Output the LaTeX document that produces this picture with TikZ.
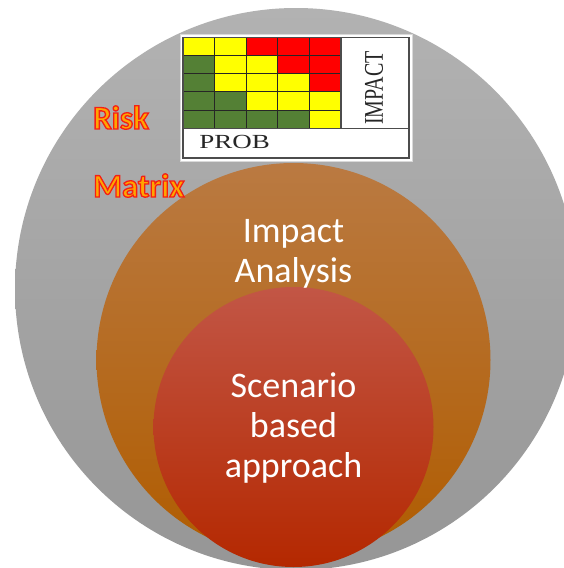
\documentclass[tikz,border=0pt]{standalone}
\usepackage{fontspec}
\setmainfont{Carlito}
\newfontfamily\gridfont{Liberation Serif}

\definecolor{outertop}{RGB}{178,178,178}
\definecolor{outerbot}{RGB}{150,150,150}
\definecolor{impacttop}{RGB}{186,122,66}
\definecolor{impactbot}{RGB}{176,92,0}
\definecolor{scentop}{RGB}{194,86,70}
\definecolor{scenbot}{RGB}{180,40,0}
\definecolor{cellY}{RGB}{255,255,0}
\definecolor{cellR}{RGB}{255,0,0}
\definecolor{cellG}{RGB}{84,128,53}
\definecolor{wordfill}{RGB}{255,165,0}

% orange letters stroked in red
\newcommand{\glowword}[1]{{\color{wordfill}%
	\special{pdf:literal direct 2 Tr 1.3 w 0.96 0.12 0.08 RG}#1%
	\special{pdf:literal direct 0 Tr}}}

\tikzset{
	every node/.style = {inner sep=0pt},
	circletext/.style = {text=white, font=\fontsize{36}{40}\selectfont, anchor=base},
	riskword/.style = {font=\bfseries\fontsize{33}{40}\selectfont, anchor=base west},
	gridtext/.style = {text=black!85, font=\gridfont\fontsize{20}{24}\selectfont, xscale=1.35},
	cell/.style = {draw=black!85, line width=1.1pt},
	frame/.style = {draw=black!70, line width=1.2pt}
}

\begin{document}
\begin{tikzpicture}[x=1pt,y=-1pt]
	\useasboundingbox (0,0) rectangle (564,568);
	\fill[white] (0,0) rectangle (564,568);
	\clip (0,0) rectangle (564,568);
	% the three discs
	\shade[top color=outertop, bottom color=outerbot] (296,289) circle (281);
	\shade[top color=impacttop, bottom color=impactbot] (293.5,360) circle (197);
	\shade[top color=scentop, bottom color=scenbot] (293.5,427) circle (140);
	% risk matrix
	\fill[white, draw=black!15] (180,34) rectangle (412,161);
	\foreach \row [count=\j from 0] in {{Y,Y,R,R,R},{G,Y,Y,R,R},{G,Y,Y,Y,R},{G,G,Y,Y,Y},{G,G,G,G,Y}}
		\foreach \c [count=\i from 0] in \row
			\filldraw[cell, fill=cell\c] (183+31.6*\i, 37.3+18.2*\j) rectangle ++(31.6,18.2);
	\draw[frame] (183,37.3) rectangle (409,158);
	\draw[frame] (183,128.3) -- (409,128.3);
	\draw[frame] (341,37.3) -- (341,128.3);
	\node[gridtext, anchor=base west] (prob) at (199,148) {PROB};
	\node[gridtext, rotate=90] (impactaxis) at (374,88) {IMPACT};
	% labels
	\node[riskword] (risk) at (93,129) {\glowword{Risk}};
	\node[riskword] (matrix) at (93,197) {\glowword{Matrix}};
	\node[circletext] (impact) at (293.5,242) {Impact};
	\node[circletext] (analysis) at (293.5,282) {Analysis};
	\node[circletext] (scenario) at (293.5,397) {Scenario};
	\node[circletext] (based) at (293.5,437) {based};
	\node[circletext] (approach) at (293.5,477) {approach};
\end{tikzpicture}
\end{document}
